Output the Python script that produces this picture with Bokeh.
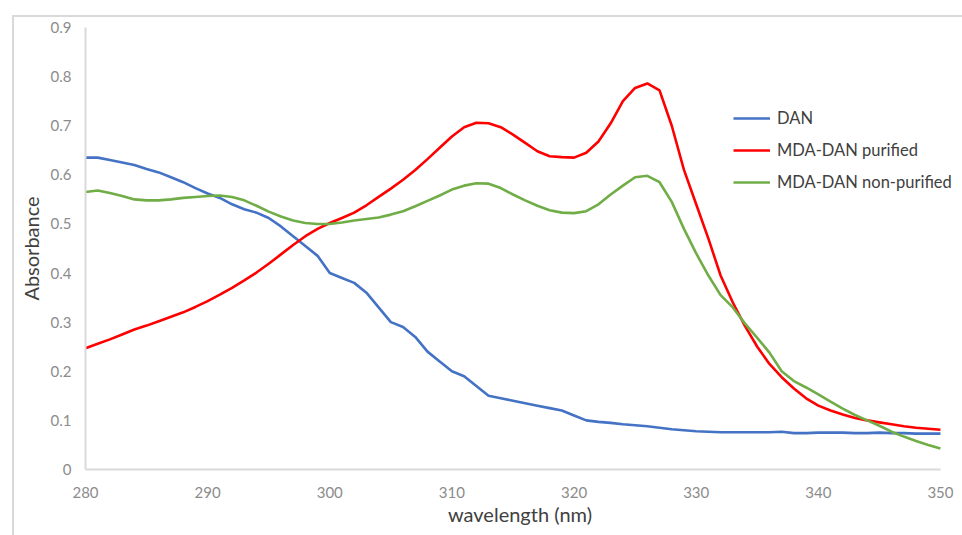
from bokeh.plotting import figure
from bokeh.models import FixedTicker, Legend, LegendItem, Range1d
from bokeh.embed import file_html
from bokeh.resources import INLINE

wavelength = list(range(280, 351))

dan = [0.635, 0.635, 0.630, 0.625, 0.620, 0.612, 0.605, 0.595, 0.585, 0.573,
       0.562, 0.553, 0.540, 0.530, 0.523, 0.512, 0.495, 0.475, 0.455, 0.435,
       0.400, 0.390, 0.380, 0.360, 0.330, 0.300, 0.290, 0.270, 0.240, 0.220,
       0.200, 0.190, 0.170, 0.150, 0.145, 0.140, 0.135, 0.130, 0.125, 0.120,
       0.110, 0.100, 0.097, 0.095, 0.092, 0.090, 0.088, 0.085, 0.082, 0.080,
       0.078, 0.077, 0.076, 0.076, 0.076, 0.076, 0.076, 0.077, 0.074, 0.074,
       0.075, 0.075, 0.075, 0.074, 0.074, 0.075, 0.074, 0.074, 0.073, 0.073,
       0.073]

purified = [0.247, 0.256, 0.265, 0.275, 0.285, 0.293, 0.302, 0.311, 0.320, 0.331,
            0.343, 0.356, 0.370, 0.385, 0.401, 0.419, 0.438, 0.457, 0.475, 0.490,
            0.502, 0.512, 0.523, 0.538, 0.555, 0.572, 0.590, 0.610, 0.632, 0.655,
            0.678, 0.697, 0.706, 0.705, 0.697, 0.682, 0.665, 0.648, 0.638, 0.636,
            0.635, 0.645, 0.668, 0.705, 0.750, 0.777, 0.786, 0.772, 0.700, 0.610,
            0.540, 0.470, 0.395, 0.340, 0.292, 0.250, 0.215, 0.188, 0.165, 0.145,
            0.130, 0.120, 0.112, 0.105, 0.100, 0.096, 0.092, 0.088, 0.085, 0.083,
            0.081]

non_purified = [0.565, 0.568, 0.563, 0.557, 0.550, 0.548, 0.548, 0.550, 0.553, 0.555,
                0.557, 0.558, 0.555, 0.548, 0.537, 0.525, 0.515, 0.507, 0.502, 0.500,
                0.500, 0.503, 0.507, 0.510, 0.513, 0.519, 0.526, 0.536, 0.547, 0.558,
                0.570, 0.578, 0.583, 0.582, 0.573, 0.560, 0.548, 0.537, 0.528, 0.523,
                0.522, 0.526, 0.540, 0.560, 0.578, 0.595, 0.598, 0.585, 0.545, 0.490,
                0.440, 0.395, 0.355, 0.330, 0.297, 0.268, 0.238, 0.200, 0.180, 0.167,
                0.153, 0.138, 0.124, 0.111, 0.100, 0.089, 0.077, 0.067, 0.058, 0.050,
                0.043]

series_names = ["DAN", "MDA-DAN purified", "MDA-DAN non-purified"]
series_colors = ["#4472C4", "#FF0000", "#70AD47"]

x_ticks = [280, 290, 300, 310, 320, 330, 340, 350]
y_ticks = [0, 0.1, 0.2, 0.3, 0.4, 0.5, 0.6, 0.7, 0.8, 0.9]
y_tick_labels = ["0", "0.1", "0.2", "0.3", "0.4", "0.5", "0.6", "0.7", "0.8", "0.9"]
x_title = "wavelength (nm)"
y_title = "Absorbance"

FONT = "Lato"

p = figure(frame_width=869, frame_height=442, output_backend="svg", toolbar_location=None,
           x_range=Range1d(280, 351.15), y_range=Range1d(0, 0.9),
           min_border_left=71, min_border_right=8, min_border_top=10,
           min_border_bottom=66, margin=(15, 0, 0, 12))
p.styles = {"border-left": "2px solid #d9d9d9", "border-top": "2px solid #d9d9d9"}
p.outline_line_color = None
p.xgrid.visible = False
p.ygrid.visible = False
p.background_fill_color = "white"
p.border_fill_color = "white"

renderers = []
for vals, col in zip([dan, purified, non_purified], series_colors):
    r = p.line(wavelength, vals, line_color=col, line_width=2.6)
    renderers.append(r)

for ax in (p.xaxis[0], p.yaxis[0]):
    ax.axis_line_color = "#d9d9d9"
    ax.axis_line_width = 2
    ax.major_tick_line_color = None
    ax.minor_tick_line_color = None
    ax.major_tick_out = 0
    ax.major_tick_in = 0
    ax.minor_tick_out = 0
    ax.minor_tick_in = 0
    ax.major_label_text_color = "#8c8c8c"
    ax.major_label_text_font = FONT
    ax.major_label_text_font_size = "15px"
    ax.axis_label_text_color = "#404040"
    ax.axis_label_text_font = FONT
    ax.axis_label_text_font_size = "20px"
    ax.axis_label_text_font_style = "normal"

p.xaxis.ticker = FixedTicker(ticks=x_ticks)
p.xaxis.bounds = (x_ticks[0], x_ticks[-1])
p.yaxis.ticker = FixedTicker(ticks=y_ticks)
p.yaxis.major_label_overrides = {t: l for t, l in zip(y_ticks, y_tick_labels)}
p.xaxis.axis_label = x_title
p.yaxis.axis_label = y_title
p.xaxis.major_label_standoff = 17
p.xaxis.axis_label_standoff = 1
p.yaxis.major_label_standoff = 14
p.yaxis.axis_label_standoff = 5

legend = Legend(items=[LegendItem(label=n, renderers=[r]) for n, r in zip(series_names, renderers)],
                location=(648, 277), padding=0, margin=0, spacing=12,
                glyph_width=37, glyph_height=20, label_height=20, label_standoff=7,
                label_text_font=FONT, label_text_font_size="16.5px",
                label_text_color="#404040", border_line_color=None,
                background_fill_alpha=0)
p.add_layout(legend, "center")

open("out.html", "w").write(file_html(p, INLINE))
